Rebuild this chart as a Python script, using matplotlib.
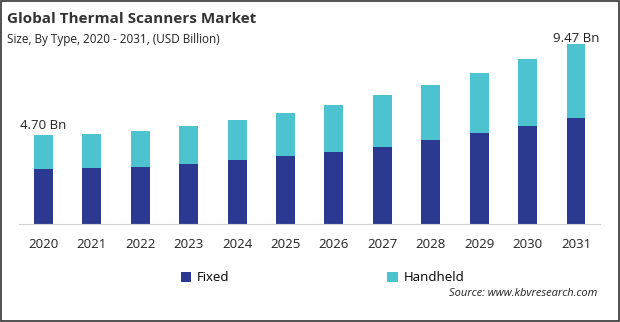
import matplotlib.pyplot as plt
from matplotlib.patches import Rectangle

years = ['2020', '2021', '2022', '2023', '2024', '2025',
         '2026', '2027', '2028', '2029', '2030', '2031']
fixed = [2.90, 2.95, 3.00, 3.16, 3.37, 3.58, 3.79, 4.05, 4.42, 4.79, 5.16, 5.60]
handheld = [1.80, 1.79, 1.90, 2.00, 2.10, 2.26, 2.47, 2.74, 2.90, 3.16, 3.52, 3.87]
label_first = '4.70 Bn'
label_last = '9.47 Bn'

dark = '#2b3990'
light = '#4dc3cf'
plt.rcParams['font.family'] = ['Open Sans', 'DejaVu Sans']

fig = plt.figure(figsize=(6.2, 3.22), dpi=100)
ax = fig.add_axes([0.031, 0.304, 0.937, 0.62])

x = range(len(years))
ax.bar(x, fixed, width=0.39, color=dark, label='Fixed')
ax.bar(x, handheld, width=0.39, bottom=fixed, color=light, label='Handheld')

totals = [f + h for f, h in zip(fixed, handheld)]
ax.text(0, totals[0] + 0.15, label_first, ha='center', va='bottom', fontsize=9.5, color='#222222')
ax.text(11, totals[-1] - 0.05, label_last, ha='center', va='bottom', fontsize=9.5, color='#222222')

ax.set_xlim(-0.5, 11.5)
ax.set_ylim(0, 10.5)
ax.set_xticks(list(x))
ax.set_xticklabels(years, fontsize=9.5, color='#222222')
ax.tick_params(axis='x', length=0, pad=10)
ax.set_yticks([])
for s in ['top', 'right', 'left']:
    ax.spines[s].set_visible(False)
ax.spines['bottom'].set_color('#d0d0d0')

fig.text(0.011, 0.94, 'Global Thermal Scanners Market', fontsize=11, fontweight='bold', color='#333333', va='center')
fig.text(0.011, 0.878, 'Size, By Type, 2020 - 2031, (USD Billion)', fontsize=8.5, color='#222222', va='center')

leg = fig.legend(loc='center', bbox_to_anchor=(0.52, 0.137), ncol=2, frameon=False,
                 fontsize=9.5, handlelength=0.8, handleheight=0.8, columnspacing=12, handletextpad=0.4)

fig.text(0.963, 0.09, 'Source: www.kbvresearch.com', fontsize=8, style='italic', color='#222222', ha='right', va='center')

fig.patches.append(Rectangle((0.001, 0.002), 0.997, 0.995, transform=fig.transFigure,
                             fill=False, edgecolor='#333333', linewidth=1.2))

fig.savefig('out.png', dpi=100)
